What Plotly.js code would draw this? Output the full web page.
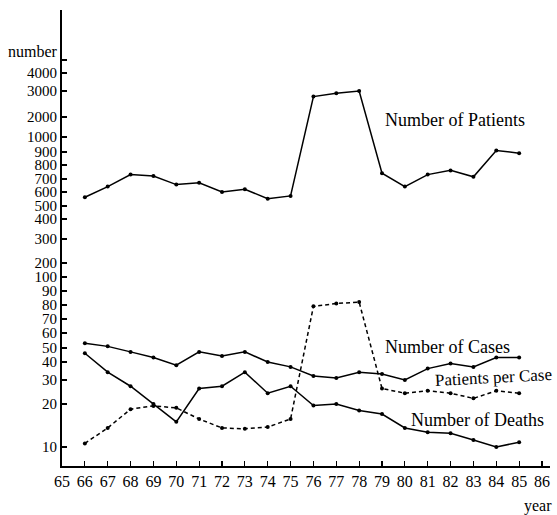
<!DOCTYPE html>
<html>
<head>
<meta charset="utf-8">
<script src="https://cdn.plot.ly/plotly-3.0.1.min.js"></script>
<style>
  html, body { margin: 0; padding: 0; background: #fff; }
  #myPlot { width: 557px; height: 515px; }
</style>
</head>
<body>
<div id="myPlot"></div>
<script>
var years = [66, 67, 68, 69, 70, 71, 72, 73, 74, 75, 76, 77, 78, 79, 80, 81, 82, 83, 84, 85];
var patients = [560, 640, 730, 720, 655, 670, 600, 620, 550, 570, 2750, 2900, 3000, 740, 640, 730, 760, 715, 910, 890];
var cases = [53, 51, 47, 43, 38, 47, 44, 47, 40, 37, 32, 31, 34, 33, 30, 36, 39, 37, 43, 43];
var deaths = [46, 34, 27, 20, 15, 26, 27, 34, 24, 27, 19.5, 20, 18, 17, 13.6, 12.7, 12.5, 11.2, 10, 10.8];
var perCase = [10.6, 13.6, 18.4, 19.4, 18.8, 15.7, 13.6, 13.4, 13.8, 15.7, 79, 81, 82, 26, 24, 25, 24, 22, 25, 24];

// the printed y scale is a hand-spaced ladder, not a clean log scale:
// each tick value and where it sits on the axis (0 = x axis, 456 = top)
var yTicks = [10, 20, 30, 40, 50, 60, 70, 80, 90, 100, 200, 300, 400, 500, 600, 700, 800, 900, 1000, 2000, 3000, 4000, 5000];
var yTickPos = [19, 62, 86, 104, 118, 133, 147, 161, 175, 189, 203, 227, 247, 260, 274, 287, 301, 314, 329, 349, 375, 393, 406];
var yTickText = ["10", "20", "30", "40", "50", "60", "70", "80", "90", "100", "200", "300", "400", "500", "600", "700", "800", "900", "1000", "2000", "3000", "4000", ""];

// value -> axis position, log interpolation between ladder rungs
function ladder(v) {
    var i = 0;
    while (i < yTicks.length - 2 && v > yTicks[i + 1]) i++;
    var a = Math.log(yTicks[i]), b = Math.log(yTicks[i + 1]);
    return yTickPos[i] + (yTickPos[i + 1] - yTickPos[i]) * (Math.log(v) - a) / (b - a);
}

var serif = "Liberation Serif, Times New Roman, serif";

function series(y, dash) {
    return {
        x: years,
        y: y.map(ladder),
        customdata: y,
        mode: "lines+markers",
        line: { color: "#000", width: 1.5, dash: dash },
        marker: { color: "#000", size: 4 },
        hoverinfo: "skip"
    };
}

// Define Data
var data = [
    series(patients, "solid"),
    series(cases, "solid"),
    series(deaths, "solid"),
    series(perCase, "4px,3px")
];

function label(text, x, y, extra) {
    var a = {
        text: text, xref: "paper", yref: "paper", x: x, y: y,
        xanchor: "center", yanchor: "middle",
        showarrow: false, font: { family: serif, size: 18, color: "#000" }
    };
    for (var k in extra) a[k] = extra[k];
    return a;
}

// Define Layout
var layout = {
    width: 557,
    height: 515,
    margin: { l: 62, r: 7, t: 10, b: 49 },
    paper_bgcolor: "#fff",
    plot_bgcolor: "#fff",
    showlegend: false,
    font: { family: serif, size: 16, color: "#000" },
    xaxis: {
        range: [65, 86.35],
        tick0: 65, dtick: 1,
        showgrid: false, zeroline: false,
        showline: true, linecolor: "#000", linewidth: 2,
        ticks: "inside", ticklen: 5, tickwidth: 1.2, tickcolor: "#000",
        tickfont: { family: serif, size: 16, color: "#000" }
    },
    yaxis: {
        range: [0, 456],
        tickmode: "array", tickvals: yTickPos, ticktext: yTickText,
        showgrid: false, zeroline: false,
        showline: true, linecolor: "#000", linewidth: 2,
        ticks: "inside", ticklen: 5, tickwidth: 1.2, tickcolor: "#000",
        tickfont: { family: serif, size: 15, color: "#000" }
    },
    annotations: [
        label("number", -0.004, 0.91, { xanchor: "right", font: { family: serif, size: 16, color: "#000" } }),
        label("Number of Patients", 0.805, 0.759),
        label("Number of Cases", 0.789, 0.261),
        label("Patients per Case", 0.884, 0.193, { textangle: -3, font: { family: serif, size: 17, color: "#000" } }),
        label("Number of Deaths", 0.852, 0.101),
        label("year", 0.975, -0.088, { font: { family: serif, size: 16, color: "#000" } })
    ]
};

// Display using Plotly
Plotly.newPlot("myPlot", data, layout, { displayModeBar: false, staticPlot: true });
</script>
</body>
</html>
